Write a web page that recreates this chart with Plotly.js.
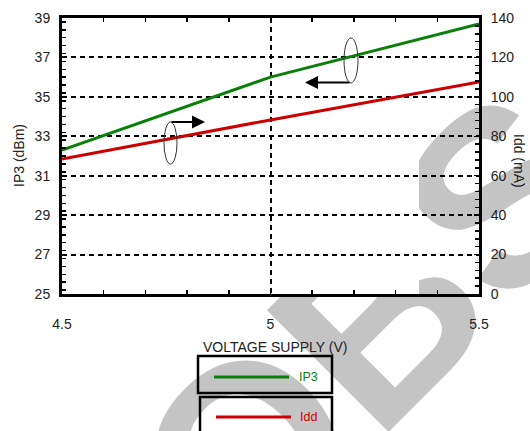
<!DOCTYPE html>
<html>
<head>
<meta charset="utf-8">
<script src="https://cdn.plot.ly/plotly-3.0.1.min.js"></script>
<style>
  html, body { margin:0; padding:0; background:#fff; }
  #wrap { position:relative; width:530px; height:431px; overflow:hidden; }
  #wm { position:absolute; left:90px; top:432px; font-family:'Liberation Sans', Arial, sans-serif; font-weight:bold;
        font-size:250px; line-height:1; color:#c4c4c4; white-space:nowrap; transform:rotate(-45deg); transform-origin:0 0; z-index:0; }
  #chart { position:absolute; left:0; top:0; width:530px; height:431px; z-index:1; }
</style>
</head>
<body>
<div id="wrap">
  <div id="wm">OBSOLETE</div>
  <div id="chart"></div>
</div>
<script>
// ---- data ----
const voltage = [4.5, 5.0, 5.5];
const ip3 = [32.3, 36.0, 38.7];      // dBm (left axis)
const idd = [68.5, 88.3, 107.6];     // mA (right axis)
const seriesNames = ['IP3', 'Idd'];
const seriesColors = ['#0a7f0a', '#cc0000'];
const xTitle = 'VOLTAGE SUPPLY (V)';
const yTitle = 'IP3 (dBm)';
const y2Title = 'Idd (mA)';

// plot area in pixels
const L = 62, R = 479, T = 18, B = 294;
const px = x => (x - L) / (R - L);
const py = y => (B - y) / (B - T);

const traces = [
  {x: voltage, y: ip3, name: seriesNames[0], type: 'scatter', mode: 'lines',
   line: {color: seriesColors[0], width: 3}, yaxis: 'y'},
  {x: voltage, y: idd, name: seriesNames[1], type: 'scatter', mode: 'lines',
   line: {color: seriesColors[1], width: 3}, yaxis: 'y2'}
];

const tickFont = {family: 'Liberation Sans, Arial, sans-serif', size: 14, color: '#222'};

const shapes = [
  // white backing of most of the plot area (watermark shows only at its right end)
  {type:'rect', xref:'paper', yref:'paper', x0:0, x1:px(419), y0:0, y1:1, layer:'below', line:{width:0}, fillcolor:'#fff'},
  // legend boxes
  {type:'rect', xref:'paper', yref:'paper', x0:px(198), x1:px(332), y0:py(393), y1:py(356), line:{color:'#000', width:2.5}},
  {type:'rect', xref:'paper', yref:'paper', x0:px(200), x1:px(332), y0:py(436), y1:py(397), line:{color:'#000', width:2.5}},
  {type:'line', xref:'paper', yref:'paper', x0:px(214), x1:px(289), y0:py(377), y1:py(377), line:{color:seriesColors[0], width:3}},
  {type:'line', xref:'paper', yref:'paper', x0:px(216), x1:px(291), y0:py(417), y1:py(417), line:{color:seriesColors[1], width:3}},
  // ellipses
  {type:'circle', xref:'paper', yref:'paper', x0:px(164), x1:px(177), y0:py(164), y1:py(122), line:{color:'#333', width:1}},
  {type:'circle', xref:'paper', yref:'paper', x0:px(344), x1:px(358), y0:py(83), y1:py(38), line:{color:'#333', width:1}}
];

const annFont = {family: 'Liberation Sans, Arial, sans-serif', size: 14, color: '#222'};
const annotations = [
  {xref:'paper', yref:'paper', x:px(274.5), y:py(347), text:xTitle, showarrow:false, font:annFont, xanchor:'center', yanchor:'middle'},
  {xref:'paper', yref:'paper', x:px(19), y:py(156), text:yTitle, showarrow:false, font:annFont, textangle:-90, xanchor:'center', yanchor:'middle'},
  {xref:'paper', yref:'paper', x:px(519), y:py(161), text:y2Title, showarrow:false, font:annFont, textangle:90, xanchor:'center', yanchor:'middle'},
  {xref:'paper', yref:'paper', x:px(297), y:py(377), text:seriesNames[0], showarrow:false, xanchor:'left', yanchor:'middle',
   font:{family:'Liberation Sans, Arial, sans-serif', size:12.5, color:seriesColors[0]}},
  {xref:'paper', yref:'paper', x:px(298), y:py(417), text:seriesNames[1], showarrow:false, xanchor:'left', yanchor:'middle',
   font:{family:'Liberation Sans, Arial, sans-serif', size:12.5, color:seriesColors[1]}},
  // arrows
  {xref:'paper', yref:'paper', x:px(205), y:py(122), ax:-35, ay:0, text:'', showarrow:true, arrowhead:2, arrowsize:1.3, arrowwidth:2, arrowcolor:'#000'},
  {xref:'paper', yref:'paper', x:px(305), y:py(82.5), ax:46, ay:0, text:'', showarrow:true, arrowhead:2, arrowsize:1.3, arrowwidth:2, arrowcolor:'#000'}
];

const layout = {
  width: 530, height: 431,
  margin: {l: L, r: 530 - R, t: T, b: 431 - B, pad: 0},
  paper_bgcolor: 'rgba(0,0,0,0)',
  plot_bgcolor: 'rgba(0,0,0,0)',
  showlegend: false,
  xaxis: {
    range: [4.5, 5.5], dtick: 0.5, tick0: 4.5,
    showline: true, linecolor: '#000', linewidth: 3, mirror: 'ticks',
    ticks: 'inside', ticklen: 5, tickwidth: 1.5, tickcolor: '#000',
    minor: {dtick: 0.1, ticks: 'inside', ticklen: 4, tickwidth: 1.5, tickcolor: '#000', showgrid: false},
    showgrid: true, gridcolor: '#000', gridwidth: 2, griddash: '5px,4px',
    zeroline: false, tickfont: tickFont, ticklabelstandoff: 15, fixedrange: true
  },
  yaxis: {
    range: [25, 39], dtick: 2, tick0: 25,
    showline: true, linecolor: '#000', linewidth: 3, mirror: true,
    ticks: 'inside', ticklen: 5, tickwidth: 1.5, tickcolor: '#000',
    minor: {dtick: 0.4, ticks: 'inside', ticklen: 4, tickwidth: 1.5, tickcolor: '#000', showgrid: false},
    showgrid: true, gridcolor: '#000', gridwidth: 2, griddash: '5px,4px',
    zeroline: false, tickfont: tickFont, ticklabelstandoff: 6, fixedrange: true
  },
  yaxis2: {
    range: [0, 140], dtick: 20, tick0: 0, overlaying: 'y', side: 'right',
    showline: true, linecolor: '#000', linewidth: 3,
    ticks: 'inside', ticklen: 5, tickwidth: 1.5, tickcolor: '#000',
    minor: {dtick: 4, ticks: 'inside', ticklen: 4, tickwidth: 1.5, tickcolor: '#000', showgrid: false},
    showgrid: false, zeroline: false, tickfont: tickFont, ticklabelstandoff: 6, fixedrange: true
  },
  shapes: shapes,
  annotations: annotations
};

Plotly.newPlot('chart', traces, layout, {displayModeBar: false, staticPlot: true});
</script>
</body>
</html>
